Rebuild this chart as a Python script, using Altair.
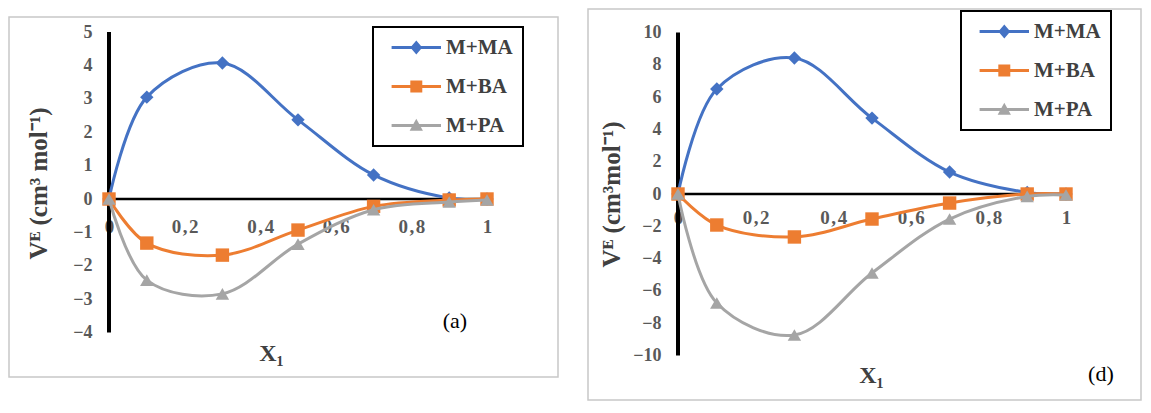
import altair as alt
import pandas as pd

# ---------------- data ----------------
x1 = [0, 0.1, 0.3, 0.5, 0.7, 0.9, 1.0]
series = ["M+MA", "M+BA", "M+PA"]
colors = ["#4472C4", "#ED7D31", "#A5A5A5"]
shapes = ["diamond", "square", "triangle-up"]

a_ma = [0, 3.05, 4.07, 2.37, 0.72, 0.03, 0]
a_ba = [0, -1.32, -1.68, -0.93, -0.22, -0.03, 0]
a_pa = [0, -2.43, -2.84, -1.35, -0.32, -0.09, -0.03]

d_ma = [0, 6.5, 8.42, 4.7, 1.36, 0.1, 0]
d_ba = [0, -1.92, -2.66, -1.55, -0.56, 0, 0]
d_pa = [0, -6.75, -8.73, -4.89, -1.55, -0.15, -0.06]

a_yticks = [-4, -3, -2, -1, 0, 1, 2, 3, 4, 5]
d_yticks = [-10, -8, -6, -4, -2, 0, 2, 4, 6, 8, 10]
xticks = [0, 0.2, 0.4, 0.6, 0.8, 1.0]

a_ytitle = "V\u1d31 (cm\u00b3 mol\u207b\u00b9)"
d_ytitle = "V\u1d31 (cm\u00b3mol\u207b\u00b9)"
xtitle = "X\u2081"

# legend symbols: line segment + marker (unit coords, scaled by sqrt(size)/2)
LINE = "M-0.2,-0.16L5,-0.16L5,0.16L-0.2,0.16Z"
legend_paths = [
    LINE + "M2.4,-0.74L3.03,0L2.4,0.74L1.77,0Z",
    LINE + "M1.77,-0.63L3.03,-0.63L3.03,0.63L1.77,0.63Z",
    LINE + "M2.4,-0.72L3.1,0.56L1.7,0.56Z",
]

SERIF = "Liberation Serif"
LABEL_C = "#595959"
TITLE_C = "#404040"
HS = "\u200a"


def panel(vals, yticks, yline, w, h, x0px, xunit, y0px, yunit,
          ytitle, ytx, yty, xtx, xty, xlabpad, tag, tagxy, legxy):
    xdom = [-x0px / xunit, (w - x0px) / xunit]
    ydom = [-(h - y0px) / yunit, y0px / yunit]
    xs = alt.Scale(domain=xdom, nice=False, zero=False)
    ys = alt.Scale(domain=ydom, nice=False, zero=False)

    xaxis = alt.Axis(values=xticks,
                     labelExpr="replace(format(datum.value, '.1~f'), '.', '" + HS + "," + HS + "')",
                     domain=False, ticks=False, tickSize=0, grid=False,
                     offset=-(h - y0px), labelPadding=xlabpad, labelFont=SERIF,
                     labelFontWeight="bold", labelFontSize=19, labelColor=LABEL_C,
                     labelOverlap=False, labelFlush=False,
                     title=xtitle, titleFont=SERIF, titleFontWeight="bold", titleFontSize=24,
                     titleColor=TITLE_C, titleX=xtx, titleY=xty)
    yaxis = alt.Axis(values=yticks, domain=False, ticks=False, tickSize=0, grid=False,
                     offset=-x0px, labelPadding=17, labelFont=SERIF, labelFontWeight="bold",
                     labelFontSize=18, labelColor=LABEL_C, labelOverlap=False, labelFlush=False,
                     title=ytitle, titleFont=SERIF, titleFontWeight="bold", titleFontSize=25,
                     titleColor=TITLE_C, titleX=ytx, titleY=yty)

    X = alt.X("x:Q", scale=xs, axis=xaxis)
    Y = alt.Y("y:Q", scale=ys, axis=yaxis)

    df = pd.DataFrame({
        "x": x1 * 3,
        "y": vals[0] + vals[1] + vals[2],
        "series": [s for s in series for _ in x1],
    })

    vline = alt.Chart(pd.DataFrame({"x": [0], "y": [yline[0]], "y2": [yline[1]]})).mark_rule(
        color="black", strokeWidth=4).encode(x=X, y=Y, y2="y2:Q")
    hline = alt.Chart(pd.DataFrame({"x": [0], "x2": [1], "y": [0]})).mark_rule(
        color="black", strokeWidth=2.5).encode(x=X, x2="x2:Q", y=Y)

    layers = [vline, hline]
    for s, c, sh in zip(series, colors, shapes):
        sub = df[df.series == s]
        layers.append(alt.Chart(sub).mark_line(color=c, strokeWidth=3, interpolate="catmull-rom")
                      .encode(x=X, y=Y))
        layers.append(alt.Chart(sub).mark_point(shape=sh, filled=True, color=c, size=180,
                                                opacity=1).encode(x=X, y=Y))

    tagc = alt.Chart(pd.DataFrame({"x": [tagxy[0]], "y": [tagxy[1]], "t": [tag]})).mark_text(
        font=SERIF, fontSize=22, color="black").encode(x=X, y=Y, text="t:N")
    layers.append(tagc)

    leg = alt.Legend(title=None, orient="none", legendX=legxy[0], legendY=legxy[1],
                     direction="vertical", strokeColor="black", fillColor="white", padding=10,
                     symbolSize=361, symbolStrokeWidth=0, symbolOpacity=1, rowPadding=17,
                     labelOffset=42, labelFont=SERIF, labelFontWeight="bold", labelFontSize=21,
                     labelColor=TITLE_C)
    legc = alt.Chart(df).transform_filter("false").mark_point(filled=True, opacity=1, size=361).encode(
        x=X, y=Y,
        color=alt.Color("series:N", scale=alt.Scale(domain=series, range=colors), legend=leg),
        shape=alt.Shape("series:N", scale=alt.Scale(domain=series, range=legend_paths), legend=leg),
    )
    layers.append(legc)

    return alt.layer(*layers).properties(width=w, height=h)


pa = panel([a_ma, a_ba, a_pa], a_yticks, [-4, 5], 549, 360, 100, 378, 182, 33.4,
           a_ytitle, -58, 166, 262, 142, 18, "(a)", [0.915, -3.65], [364, 18])
pd_ = panel([d_ma, d_ba, d_pa], d_yticks, [-10, 10], 553, 391, 90, 388, 185, 16.15,
            d_ytitle, -54, 185, 283, 169, 14, "(d)", [1.09, -11.15], [373, 2])

# invisible spacer that pushes panel (a) a few pixels lower than panel (d)
spacer = alt.Chart(pd.DataFrame({"a": [0]})).mark_rule(opacity=0, strokeWidth=0).encode(
    x=alt.value(0), x2=alt.value(1), y=alt.value(0)).properties(
    width=549, height=1, view=alt.ViewBackground(stroke="transparent"))

left = alt.vconcat(spacer, pa, spacing=5)

chart = alt.hconcat(left, pd_, spacing=28).resolve_scale(
    color="independent", shape="independent").resolve_legend(
    color="independent", shape="independent").properties(padding=0).configure_view(
    stroke="#C8C8C8", strokeWidth=1.5).configure_legend(strokeWidth=2, cornerRadius=0)

chart.save("out.html", embed_options={"renderer": "svg", "actions": False})
